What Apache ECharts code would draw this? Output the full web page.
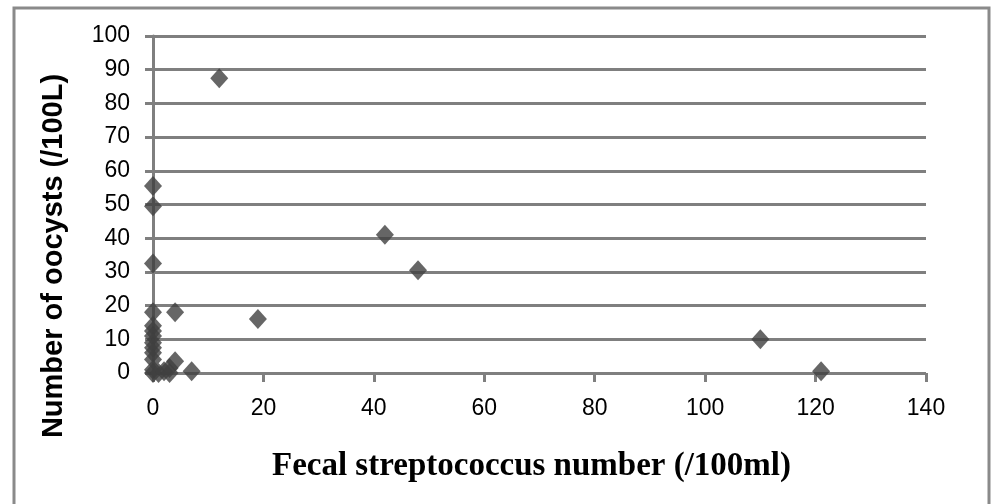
<!DOCTYPE html>
<html>
<head>
<meta charset="utf-8">
<script src="https://cdn.jsdelivr.net/npm/echarts@6/dist/echarts.min.js"></script>
<style>
  html, body { margin: 0; padding: 0; background: #fff; }
  #chart { width: 994px; height: 504px; }
</style>
</head>
<body>
<div id="chart"></div>
<script>
// Fecal streptococcus count (/100ml) vs. oocyst count (/100L)
const streptococcus = [0, 0, 0, 0, 0, 0, 0, 0, 0, 0, 0, 0, 0, 1, 2, 3, 3, 4, 4, 7, 12, 19, 42, 48, 110, 121];
const oocysts       = [55.5, 49.5, 32.5, 18, 14, 12.5, 11, 9, 7.5, 6, 4, 1, 0, 0, 0.5, 1.5, 0, 3.5, 18, 0.5, 87.5, 16, 41, 30.5, 10, 0.5];

const xTicks = [0, 20, 40, 60, 80, 100, 120, 140];
const yTicks = [0, 10, 20, 30, 40, 50, 60, 70, 80, 90, 100];

const xTitle = 'Fecal streptococcus number (/100ml)';
const yTitle = 'Number of oocysts (/100L)';

const points = streptococcus.map((x, i) => [x, oocysts[i]]);

const chart = echarts.init(document.getElementById('chart'), null, { renderer: 'canvas' });

const lineGray = '#7f7f7f';

chart.setOption({
  animation: false,
  backgroundColor: '#ffffff',
  graphic: [{
    type: 'rect',
    shape: { x: 14, y: 8, width: 975, height: 510 },
    style: { fill: 'none', stroke: '#8a8a8a', lineWidth: 3 },
    silent: true
  }, {
    type: 'text',
    x: 54,
    y: 256,
    rotation: Math.PI / 2,
    style: {
      text: yTitle,
      fontFamily: 'Liberation Sans',
      fontWeight: 'bold',
      fontSize: 29,
      fill: '#000',
      align: 'center',
      verticalAlign: 'middle'
    },
    silent: true
  }],
  grid: { left: 153, right: 68, top: 36, bottom: 131, containLabel: false },
  xAxis: {
    type: 'value',
    min: xTicks[0],
    max: xTicks[xTicks.length - 1],
    interval: 20,
    name: xTitle,
    nameLocation: 'middle',
    nameGap: 77,
    nameTextStyle: { fontFamily: 'Liberation Serif', fontWeight: 'bold', fontSize: 33, color: '#000', padding: [0, 16, 0, 0] },
    axisLine: { show: false },
    axisTick: { show: true, length: 9, lineStyle: { color: lineGray, width: 3 } },
    axisLabel: { margin: 24, fontFamily: 'Liberation Sans', fontSize: 23, color: '#000' },
    splitLine: { show: false }
  },
  yAxis: {
    type: 'value',
    min: yTicks[0],
    max: yTicks[yTicks.length - 1],
    interval: 10,
    axisLine: { show: true, lineStyle: { color: lineGray, width: 3 } },
    axisTick: { show: true, length: 8, lineStyle: { color: lineGray, width: 3 } },
    axisLabel: { margin: 23, fontFamily: 'Liberation Sans', fontSize: 23, color: '#000' },
    splitLine: { show: true, lineStyle: { color: lineGray, width: 3 } }
  },
  series: [{
    type: 'scatter',
    data: points,
    symbol: 'diamond',
    symbolSize: [18, 20],
    itemStyle: { color: '#404040' }
  }]
});
</script>
</body>
</html>
